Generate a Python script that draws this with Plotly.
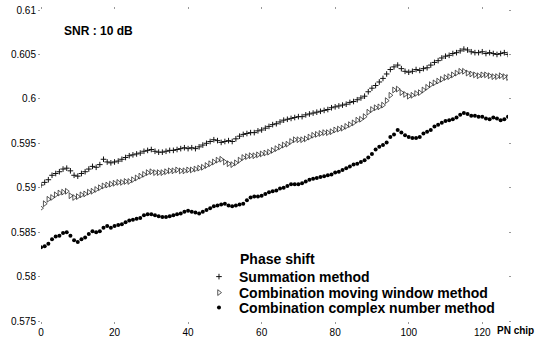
import plotly.graph_objects as go

chip = list(range(128))

summation = [
    0.5903, 0.5906, 0.5909, 0.5914, 0.5916, 0.5918, 0.5921, 0.5922, 0.5919, 0.5914,
    0.5913, 0.5916, 0.5918, 0.5921, 0.5924, 0.5923, 0.5926, 0.5932, 0.5929, 0.5928,
    0.5929, 0.5930, 0.5932, 0.5934, 0.5936, 0.5937, 0.5938, 0.5939, 0.5941, 0.5942,
    0.5943, 0.5941, 0.5940, 0.5940, 0.5941, 0.5942, 0.5942, 0.5943, 0.5944, 0.5945,
    0.5944, 0.5945, 0.5944, 0.5946, 0.5948, 0.5950, 0.5952, 0.5954, 0.5953, 0.5951,
    0.5952, 0.5953, 0.5952, 0.5955, 0.5958, 0.5960, 0.5961, 0.5962, 0.5962, 0.5964,
    0.5965, 0.5967, 0.5969, 0.5971, 0.5972, 0.5974, 0.5976, 0.5977, 0.5978, 0.5979,
    0.5980, 0.5980, 0.5982, 0.5983, 0.5984, 0.5985, 0.5986, 0.5987, 0.5988, 0.5990,
    0.5991, 0.5992, 0.5993, 0.5994, 0.5996, 0.5997, 0.5999, 0.6001, 0.6003, 0.6008,
    0.6012, 0.6015, 0.6019, 0.6023, 0.6028, 0.6033, 0.6036, 0.6038, 0.6034, 0.6031,
    0.6030, 0.6031, 0.6033, 0.6032, 0.6034, 0.6035, 0.6038, 0.6041, 0.6043, 0.6046,
    0.6048, 0.6049, 0.6051, 0.6052, 0.6054, 0.6056, 0.6055, 0.6053, 0.6052, 0.6052,
    0.6053, 0.6051, 0.6052, 0.6051, 0.6050, 0.6051, 0.6052, 0.6050,
]

moving_window = [
    0.5877, 0.5882, 0.5887, 0.5889, 0.5892, 0.5894, 0.5895, 0.5896, 0.5891, 0.5889,
    0.5890, 0.5892, 0.5893, 0.5895, 0.5896, 0.5898, 0.5900, 0.5902, 0.5903, 0.5904,
    0.5905, 0.5906, 0.5906, 0.5907, 0.5907, 0.5909, 0.5911, 0.5913, 0.5915, 0.5917,
    0.5918, 0.5917, 0.5917, 0.5917, 0.5918, 0.5919, 0.5919, 0.5920, 0.5919, 0.5919,
    0.5920, 0.5920, 0.5921, 0.5922, 0.5923, 0.5925, 0.5927, 0.5929, 0.5931, 0.5932,
    0.5929, 0.5927, 0.5926, 0.5928, 0.5931, 0.5934, 0.5935, 0.5936, 0.5936, 0.5937,
    0.5938, 0.5939, 0.5940, 0.5942, 0.5944, 0.5946, 0.5948, 0.5949, 0.5952, 0.5954,
    0.5954, 0.5954, 0.5955, 0.5957, 0.5959, 0.5960, 0.5961, 0.5962, 0.5962, 0.5963,
    0.5965, 0.5966, 0.5967, 0.5969, 0.5971, 0.5973, 0.5976, 0.5977, 0.5980, 0.5985,
    0.5988, 0.5990, 0.5991, 0.5993, 0.5998, 0.6004, 0.6010, 0.6011, 0.6007, 0.6005,
    0.6003, 0.6004, 0.6006, 0.6007, 0.6010, 0.6013, 0.6016, 0.6018, 0.6020, 0.6022,
    0.6024, 0.6025, 0.6027, 0.6029, 0.6031, 0.6031, 0.6029, 0.6028, 0.6027, 0.6026,
    0.6027, 0.6027, 0.6026, 0.6025, 0.6025, 0.6026, 0.6025, 0.6024,
]

complex_number = [
    0.5833, 0.5834, 0.5837, 0.5842, 0.5845, 0.5846, 0.5849, 0.5850, 0.5846, 0.5841,
    0.5839, 0.5842, 0.5844, 0.5848, 0.5851, 0.5850, 0.5851, 0.5855, 0.5857, 0.5855,
    0.5857, 0.5858, 0.5859, 0.5861, 0.5863, 0.5864, 0.5865, 0.5866, 0.5869, 0.5870,
    0.5870, 0.5869, 0.5868, 0.5867, 0.5867, 0.5868, 0.5869, 0.5870, 0.5871, 0.5873,
    0.5874, 0.5873, 0.5872, 0.5871, 0.5873, 0.5875, 0.5877, 0.5879, 0.5880, 0.5881,
    0.5882, 0.5880, 0.5879, 0.5880, 0.5881, 0.5882, 0.5886, 0.5889, 0.5890, 0.5890,
    0.5891, 0.5893, 0.5895, 0.5896, 0.5897, 0.5899, 0.5900, 0.5902, 0.5904, 0.5904,
    0.5904, 0.5905, 0.5907, 0.5909, 0.5910, 0.5911, 0.5912, 0.5913, 0.5914, 0.5915,
    0.5917, 0.5918, 0.5920, 0.5922, 0.5924, 0.5926, 0.5927, 0.5929, 0.5931, 0.5934,
    0.5938, 0.5943, 0.5946, 0.5948, 0.5951, 0.5957, 0.5960, 0.5965, 0.5962, 0.5959,
    0.5957, 0.5956, 0.5956, 0.5957, 0.5961, 0.5963, 0.5965, 0.5969, 0.5971, 0.5973,
    0.5975, 0.5976, 0.5977, 0.5979, 0.5982, 0.5984, 0.5983, 0.5981, 0.5981, 0.5980,
    0.5980, 0.5978, 0.5977, 0.5979, 0.5978, 0.5976, 0.5977, 0.5980,
]

x_ticks = [0, 20, 40, 60, 80, 100, 120]
y_ticks = [0.575, 0.58, 0.585, 0.59, 0.595, 0.6, 0.605, 0.61]
y_tick_text = ["0.575", "0.58", "0.585", "0.59", "0.595", "0.6", "0.605", "0.61"]

series_names = [
    "Summation method",
    "Combination moving window method",
    "Combination complex number method",
]

FONT = "Liberation Sans, Arial, sans-serif"

fig = go.Figure()
fig.add_trace(go.Scatter(
    x=chip, y=summation, mode="markers", name=series_names[0], legend="legend",
    marker=dict(symbol="cross-thin", size=4, color="#111",
                line=dict(width=1, color="#111")),
))
fig.add_trace(go.Scatter(
    x=chip, y=moving_window, mode="markers", name=series_names[1], legend="legend2",
    marker=dict(symbol="triangle-right-open", size=5, color="#111",
                line=dict(width=0.7, color="#111")),
))
fig.add_trace(go.Scatter(
    x=chip, y=complex_number, mode="markers", name=series_names[2], legend="legend3",
    marker=dict(symbol="circle", size=4, color="black"),
))

legend_common = dict(
    x=0.3383, xanchor="left", yanchor="top",
    bgcolor="rgba(0,0,0,0)", borderwidth=0,
    font=dict(family=FONT, size=14, color="black", weight="bold"),
    itemwidth=30,
)

fig.update_layout(
    width=543, height=340,
    margin=dict(l=41, r=35, t=10, b=19, autoexpand=False),
    paper_bgcolor="white", plot_bgcolor="white",
    font=dict(family=FONT, color="black"),
    showlegend=True,
    legend=dict(y=0.1929, **legend_common),
    legend2=dict(y=0.1415, **legend_common),
    legend3=dict(y=0.0933, **legend_common),
    annotations=[
        dict(text="<b>SNR : 10 dB</b>", xref="paper", yref="paper",
             x=0.044, y=0.932, xanchor="left", yanchor="middle",
             showarrow=False, font=dict(family=FONT, size=12, color="black")),
        dict(text="<b>Phase shift</b>", xref="paper", yref="paper",
             x=0.4221, y=0.1994, xanchor="left", yanchor="middle",
             showarrow=False, font=dict(family=FONT, size=14, color="black")),
        dict(text="<b>PN chip</b>", xref="paper", yref="paper",
             x=0.9727, y=-0.029, xanchor="left", yanchor="middle",
             showarrow=False, font=dict(family=FONT, size=10, color="black")),
    ],
)

fig.update_xaxes(
    range=[0, 127], tickvals=x_ticks, ticktext=[str(v) for v in x_ticks],
    showgrid=False, zeroline=False, showline=False, automargin=False,
    ticks="outside", ticklen=2, tickcolor="#999", mirror="ticks",
    ticklabelstandoff=0, ticklabeloverflow="allow",
    tickfont=dict(family=FONT, size=10, color="black"),
)
fig.update_yaxes(
    range=[0.575, 0.61], tickvals=y_ticks, ticktext=y_tick_text,
    showgrid=False, zeroline=False, showline=False, automargin=False,
    ticks="outside", ticklen=2, tickcolor="#999", mirror="ticks",
    ticklabelstandoff=0, ticklabeloverflow="allow",
    tickfont=dict(family=FONT, size=10, color="black"),
)

# remove the browser's default 8px page margin so the figure fills the window
fig.write_html(
    "out.html",
    config={"displayModeBar": False},
    post_script="document.body.style.margin='0';",
)
